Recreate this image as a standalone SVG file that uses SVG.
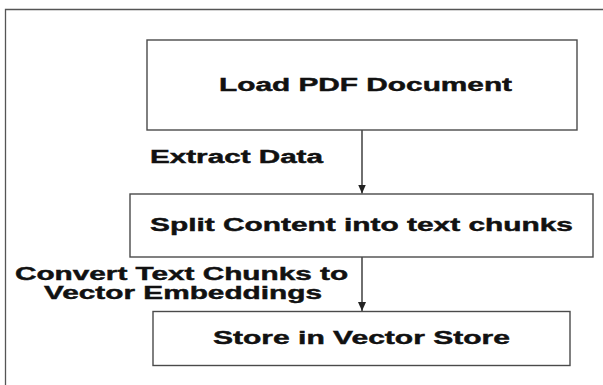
<svg xmlns="http://www.w3.org/2000/svg" width="603" height="385" viewBox="0 0 603 385">
<style>
.box{fill:#ffffff;stroke:#4a4a4a;stroke-width:1.4}
.t{font-family:"Liberation Sans",Arial,sans-serif;font-weight:bold;font-size:19px;fill:#111;stroke:#111;stroke-width:0.45}
.c{stroke:#333;stroke-width:1.4;fill:none}
.frame{stroke:#555;stroke-width:1.3;fill:none}
</style>
<defs>
<marker id="ah" markerWidth="10" markerHeight="8" refX="9" refY="4" orient="auto" markerUnits="userSpaceOnUse">
<path d="M0,0 L9,4 L0,8 Z" fill="#222"/>
</marker>
</defs>
<rect x="0" y="0" width="603" height="385" fill="#ffffff"/>
<path class="frame" d="M5.5,385 L5.5,9.5 L603,9.5"/>
<g id="connectors">
<line class="c" x1="362" y1="130" x2="362" y2="193.5" marker-end="url(#ah)"/>
<line class="c" x1="362" y1="257" x2="362" y2="311" marker-end="url(#ah)"/>
<text class="t" transform="translate(150,163) scale(1.45,1)" textLength="119.3" lengthAdjust="spacingAndGlyphs">Extract Data</text>
<text class="t" transform="translate(15,279.5) scale(1.45,1)" textLength="229.7" lengthAdjust="spacingAndGlyphs">Convert Text Chunks to</text>
<text class="t" transform="translate(44,299) scale(1.45,1)" textLength="191.7" lengthAdjust="spacingAndGlyphs">Vector Embeddings</text>
</g>
<g id="load">
<rect class="box" x="147" y="40" width="430" height="90"/>
<text class="t" transform="translate(219,90.5) scale(1.45,1)" textLength="202.1" lengthAdjust="spacingAndGlyphs">Load PDF Document</text>
</g>
<g id="split">
<rect class="box" x="130" y="194" width="463" height="63"/>
<text class="t" transform="translate(150,231) scale(1.45,1)" textLength="291.7" lengthAdjust="spacingAndGlyphs">Split Content into text chunks</text>
</g>
<g id="store">
<rect class="box" x="153" y="311.5" width="417" height="54"/>
<text class="t" transform="translate(213,344) scale(1.45,1)" textLength="204.8" lengthAdjust="spacingAndGlyphs">Store in Vector Store</text>
</g>
</svg>
